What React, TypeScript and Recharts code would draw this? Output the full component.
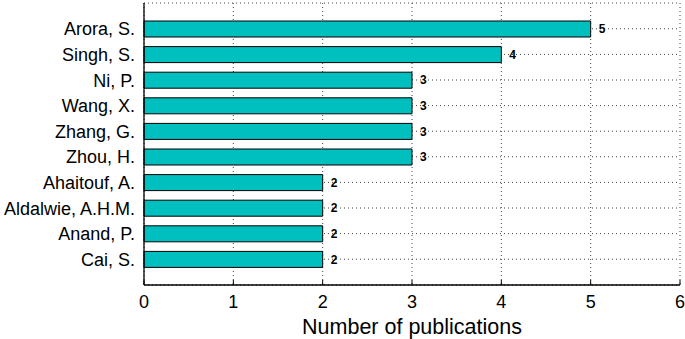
import React from 'react';
import { BarChart, Bar, XAxis, YAxis, CartesianGrid, LabelList } from 'recharts';

const authors = [
  'Arora, S.',
  'Singh, S.',
  'Ni, P.',
  'Wang, X.',
  'Zhang, G.',
  'Zhou, H.',
  'Ahaitouf, A.',
  'Aldalwie, A.H.M.',
  'Anand, P.',
  'Cai, S.',
];
const publications = [5, 4, 3, 3, 3, 3, 2, 2, 2, 2];
const xTicks = [0, 1, 2, 3, 4, 5, 6];

const data = authors.map((name, i) => ({ name, count: publications[i] }));

const FONT = '"Liberation Sans", Arial, Helvetica, sans-serif';

const BottomTick = (props: any) => {
  const { x, y, payload } = props;
  return (
    <g>
      <line x1={x} y1={y} x2={x} y2={y - 5} stroke="#000" strokeWidth={1} />
      <text x={x} y={y + 23} textAnchor="middle" fontSize={18} fontFamily={FONT} fill="#000">
        {payload.value}
      </text>
    </g>
  );
};

const TopTick = (props: any) => {
  const { x, y } = props;
  return <line x1={x} y1={y} x2={x} y2={y + 5} stroke="#000" strokeWidth={1} />;
};

const RightTick = (props: any) => {
  const { x, y } = props;
  return <line x1={x} y1={y} x2={x - 5} y2={y} stroke="#000" strokeWidth={1} />;
};

const LeftTick = (props: any) => {
  const { x, y, payload } = props;
  return (
    <text x={x} y={y} dy={6.5} textAnchor="end" fontSize={18} fontFamily={FONT} fill="#000">
      {payload.value}
    </text>
  );
};

// axis title drawn with its own baseline so the descenders stay inside the frame
const AxisTitle = (props: any) => {
  const { viewBox } = props;
  const cx = viewBox.x + viewBox.width / 2;
  return (
    <text x={cx} y={viewBox.y + 49} textAnchor="middle" fontSize={21.5} fontFamily={FONT} fill="#000">
      Number of publications
    </text>
  );
};

export default function App() {
  return (
    <div style={{ position: 'absolute', left: 0, top: 0, background: '#fff' }}>
      <BarChart
        width={685}
        height={339}
        data={data}
        layout="vertical"
        margin={{ top: 3, right: 5, left: 0, bottom: 0 }}
      >
        <CartesianGrid stroke="#444" strokeDasharray="1 3" strokeWidth={1} />
        <XAxis
          type="number"
          domain={[0, 6]}
          ticks={xTicks}
          interval={0}
          tickLine={false}
          tickSize={0}
          tickMargin={0}
          tick={<BottomTick />}
          axisLine={{ stroke: '#000', strokeWidth: 1.3 }}
          height={54}
          label={<AxisTitle />}
        />
        <XAxis
          xAxisId="top"
          orientation="top"
          type="number"
          domain={[0, 6]}
          ticks={xTicks}
          interval={0}
          tickLine={false}
          tickSize={0}
          tickMargin={0}
          tick={<TopTick />}
          axisLine={{ stroke: '#000', strokeWidth: 1.3 }}
          height={0}
        />
        <YAxis
          type="category"
          dataKey="name"
          width={144}
          interval={0}
          tickLine={false}
          tickSize={7}
          tick={<LeftTick />}
          axisLine={{ stroke: '#000', strokeWidth: 1.3 }}
          padding={{ top: 13, bottom: 13 }}
        />
        <YAxis
          yAxisId="right"
          orientation="right"
          type="category"
          dataKey="name"
          width={0}
          interval={0}
          tickLine={false}
          tickSize={0}
          tickMargin={0}
          tick={<RightTick />}
          axisLine={{ stroke: '#000', strokeWidth: 1.3 }}
          padding={{ top: 13, bottom: 13 }}
        />
        <Bar
          dataKey="count"
          fill="#00bfbf"
          stroke="#000"
          strokeWidth={1}
          barSize={16}
          isAnimationActive={false}
        >
          <LabelList
            dataKey="count"
            position="right"
            offset={8}
            fontSize={12}
            fontWeight="bold"
            fontFamily={FONT}
            fill="#000"
          />
        </Bar>
      </BarChart>
    </div>
  );
}
